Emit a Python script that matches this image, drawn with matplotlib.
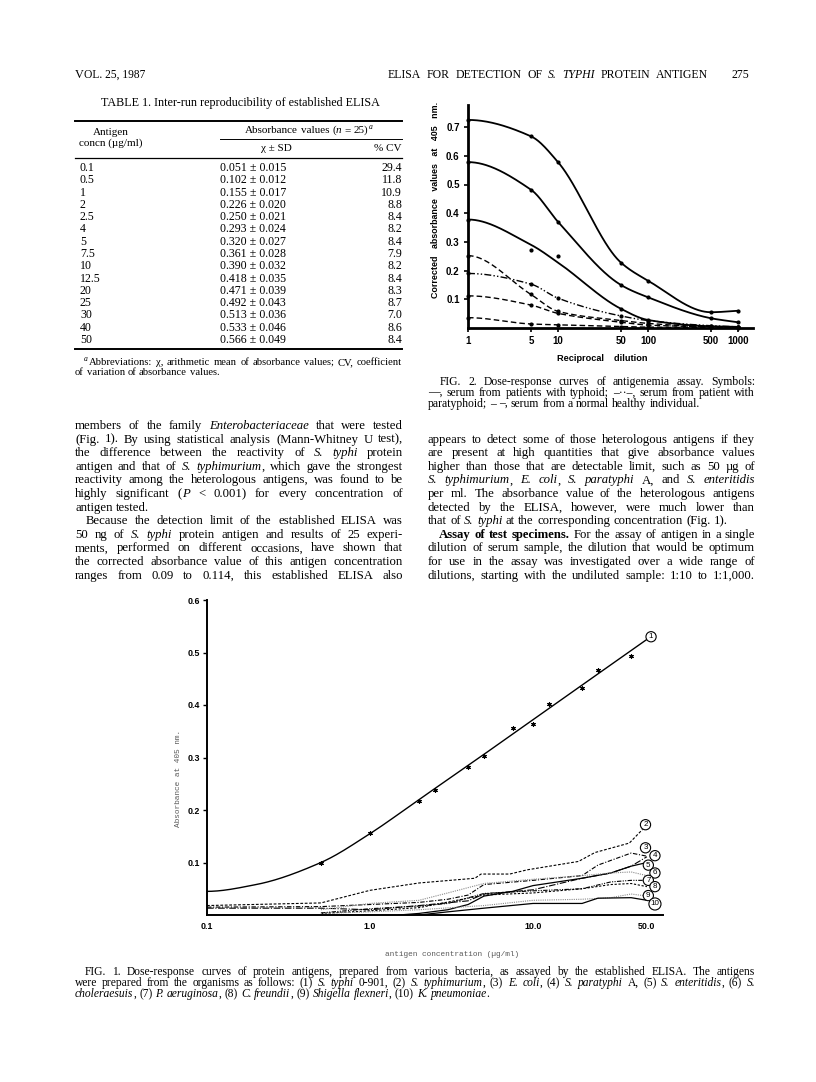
"""Journal page: Table 1, Fig. 2 and Fig. 1 (ELISA for S. typhi protein antigen)"""

import re
import numpy as np
import matplotlib
matplotlib.use("Agg")
import matplotlib.pyplot as plt
from matplotlib.lines import Line2D
from matplotlib.ticker import NullLocator

# ---------------- data ----------------
# Table 1
conc = ["0.1", "0.5", "1", "2", "2.5", "4", "5", "7.5", "10", "12.5", "20", "25", "30", "40", "50"]
mean_abs = [0.051, 0.102, 0.155, 0.226, 0.250, 0.293, 0.320, 0.361, 0.390, 0.418, 0.471, 0.492, 0.513, 0.533, 0.566]
sd_abs = [0.015, 0.012, 0.017, 0.020, 0.021, 0.024, 0.027, 0.028, 0.032, 0.035, 0.039, 0.043, 0.036, 0.046, 0.049]
cv_pct = [29.4, 11.8, 10.9, 8.8, 8.4, 8.2, 8.4, 7.9, 8.2, 8.4, 8.3, 8.7, 7.0, 8.6, 8.4]

# Fig. 2 (reciprocal dilution vs corrected absorbance)
dilution = [1, 5, 10, 50, 100, 500, 1000]
typhoid_a = [0.725, 0.668, 0.578, 0.228, 0.165, 0.055, 0.060]
typhoid_b = [0.578, 0.482, 0.370, 0.150, 0.107, 0.034, 0.020]
typhoid_c_curve = [0.378, 0.290, 0.228, 0.067, 0.028, 0.006, 0.004]
typhoid_c_pts = [0.378, 0.272, 0.250, 0.067, 0.028, 0.006, 0.004]
paratyphoid = [0.190, 0.153, 0.104, 0.042, 0.026, 0.008, 0.004]
normal_d = [0.252, 0.117, 0.058, 0.026, 0.016, 0.004, 0.002]
normal_f = [0.112, 0.080, 0.051, 0.020, 0.010, 0.004, 0.002]
normal_g = [0.036, 0.014, 0.011, 0.005, 0.003, 0.002, 0.001]

# Fig. 1 (antigen concentration vs absorbance)
typhi_pts_x = [0.5, 1.0, 2.0, 2.5, 4.0, 5.0, 7.5, 10.0, 12.5, 20.0, 25.0, 40.0]
typhi_pts_y = [0.100, 0.157, 0.218, 0.238, 0.281, 0.302, 0.356, 0.363, 0.402, 0.433, 0.467, 0.494]
typhi_fit_x = [0.1, 0.2, 0.5, 1.0, 2.0, 5.0, 10.0, 20.0, 50.0]
typhi_fit_y = [0.045, 0.058, 0.100, 0.155, 0.220, 0.306, 0.372, 0.438, 0.525]

c2_x = [0.1, 0.5, 1, 2, 4.4, 4.8, 7.2, 9.2, 19, 24, 39, 47]
c2_y = [0.018, 0.023, 0.047, 0.061, 0.070, 0.078, 0.078, 0.086, 0.102, 0.119, 0.137, 0.163]
c3_x = [0.1, 0.5, 1, 2, 3, 4, 5, 10, 20, 25, 40, 50]
c3_y = [0.015, 0.016, 0.020, 0.024, 0.030, 0.038, 0.058, 0.066, 0.075, 0.095, 0.118, 0.112]
c4_x = [0.1, 0.5, 1, 2, 4, 5, 10, 20, 30, 40, 50]
c4_y = [0.013, 0.013, 0.010, 0.018, 0.027, 0.040, 0.048, 0.070, 0.080, 0.093, 0.111]
c5_x = [1.5, 2, 3, 4, 5, 7.5, 10, 20, 30, 40, 50]
c5_y = [0.0, 0.003, 0.010, 0.020, 0.036, 0.045, 0.056, 0.070, 0.080, 0.093, 0.100]
c6_x = [0.5, 1, 2, 3, 5, 10, 20, 30, 40, 50]
c6_y = [0.010, 0.022, 0.028, 0.042, 0.060, 0.068, 0.075, 0.080, 0.082, 0.075]
c7_x = [0.5, 1, 2, 3, 5, 10, 20, 30, 40, 50]
c7_y = [0.004, 0.012, 0.017, 0.022, 0.041, 0.046, 0.050, 0.063, 0.066, 0.066]
c8_x = [0.5, 1, 2, 5, 10, 20, 30, 40, 50]
c8_y = [0.003, 0.008, 0.014, 0.038, 0.042, 0.050, 0.058, 0.060, 0.054]
c9_x = [0.5, 1, 2, 5, 10, 20, 30, 40, 50]
c9_y = [0.003, 0.006, 0.010, 0.018, 0.028, 0.030, 0.033, 0.040, 0.036]
c10_x = [2, 3, 5, 10, 20, 25, 40, 50]
c10_y = [0.0, 0.006, 0.013, 0.022, 0.022, 0.032, 0.033, 0.028]
label_x = [53, 49, 49, 56, 51, 56, 51, 56, 51, 56]
label_y = [0.530, 0.172, 0.128, 0.113, 0.095, 0.080, 0.066, 0.054, 0.037, 0.021]

# ---------------- page helpers ----------------
W, H = 816, 1082
fig = plt.figure(figsize=(W / 100, H / 100), dpi=100)
renderer = fig.canvas.get_renderer()

SERIF = "Liberation Serif"
SANS = "Liberation Sans"
MONO = "Liberation Mono"


def fx(x):
    return x / W


def fy(y):
    return 1 - y / H


def word_parts(word):
    parts = []
    for seg in re.split(r"(_[^_]+_|\*[^*]+\*)", word):
        if not seg:
            continue
        if seg.startswith("_"):
            parts.append((seg[1:-1], "italic", "normal"))
        elif seg.startswith("*"):
            parts.append((seg[1:-1], "normal", "bold"))
        else:
            parts.append((seg, "normal", "normal"))
    return parts


def text_line(line, x0, x1, y, size, justify=True, indent=0):
    items = []
    for w in line.split():
        segs = []
        for s, st, wt in word_parts(w):
            t = fig.text(0, 0, s, fontsize=size, family=SERIF, style=st,
                         weight=wt, va="baseline", ha="left")
            segs.append((t, t.get_window_extent(renderer).width))
        items.append(segs)
    widths = [sum(w for _, w in segs) for segs in items]
    x = x0 + indent
    if justify and len(items) > 1:
        gap = (x1 - x - sum(widths)) / (len(items) - 1)
    else:
        gap = size * 100 / 72 * 0.26
    for segs, ww in zip(items, widths):
        cx = x
        for t, w in segs:
            t.set_position((fx(cx), fy(y)))
            cx += w
        x += ww + gap
    return x - gap


def paragraph(lines, x0, x1, y0, lead, size):
    for i, (line, just, ind) in enumerate(lines):
        text_line(line, x0, x1, y0 + i * lead, size, justify=just, indent=ind)


def hrule(x0, x1, y, lw=0.8):
    fig.add_artist(Line2D([fx(x0), fx(x1)], [fy(y), fy(y)], lw=lw,
                          color="black", transform=fig.transFigure))


def smooth(x, y, start_slope=0.0, n=300):
    # monotone cubic through the read points, in log-x space (drawing only)
    lx = np.log10(np.asarray(x, float))
    y = np.asarray(y, float)
    h = np.diff(lx)
    d = np.diff(y) / h
    m = np.empty_like(y)
    m[0] = start_slope
    m[-1] = d[-1]
    for i in range(1, len(y) - 1):
        if d[i - 1] * d[i] <= 0:
            m[i] = 0
        else:
            w1, w2 = 2 * h[i] + h[i - 1], h[i] + 2 * h[i - 1]
            m[i] = (w1 + w2) / (w1 / d[i - 1] + w2 / d[i])
    xs = np.linspace(lx[0], lx[-1], n)
    k = np.clip(np.searchsorted(lx, xs, side="right") - 1, 0, len(h) - 1)
    t = (xs - lx[k]) / h[k]
    yy = ((2 * t**3 - 3 * t**2 + 1) * y[k] + (t**3 - 2 * t**2 + t) * h[k] * m[k]
          + (-2 * t**3 + 3 * t**2) * y[k + 1] + (t**3 - t**2) * h[k] * m[k + 1])
    return 10**xs, yy


# ---------------- running head ----------------
v = fig.text(fx(75), fy(78), "V", fontsize=8.8, family=SERIF, va="baseline")
vw = v.get_window_extent(renderer).width
fig.text(fx(75 + vw + 0.5), fy(78), "OL. 25, 1987", fontsize=8.3, family=SERIF, va="baseline")
text_line("ELISA FOR DETECTION OF _S._ _TYPHI_ PROTEIN ANTIGEN", 388, 708, 78, 8.5)
fig.text(fx(749), fy(78), "275", fontsize=8.5, family=SERIF, va="baseline", ha="right")

# ---------------- Table 1 ----------------
fig.text(fx(240), fy(106), "TABLE 1. Inter-run reproducibility of established ELISA",
         fontsize=8.7, family=SERIF, ha="center", va="baseline")
hrule(75, 402, 121, lw=1.4)
fig.text(fx(111), fy(135), "Antigen", fontsize=8, family=SERIF, ha="center", va="baseline")
fig.text(fx(111), fy(146), "concn (µg/ml)", fontsize=8, family=SERIF, ha="center", va="baseline")
xe = text_line("Absorbance values (_n_ = 25)", 245, 402, 133, 8, justify=False)
fig.text(fx(xe + 1), fy(129), "a", fontsize=5.5, family=SERIF, style="italic", va="baseline")
hrule(220, 402, 139, lw=0.7)
fig.text(fx(276), fy(151), "χ ± SD", fontsize=8, family=SERIF, ha="center", va="baseline")
fig.text(fx(402), fy(151), "% CV", fontsize=8, family=SERIF, ha="right", va="baseline")
hrule(75, 402, 158, lw=0.9)

for i in range(len(conc)):
    yb = 171 + 12.29 * i
    fig.text(fx(80), fy(yb), conc[i], fontsize=8.6, family=SERIF, va="baseline")
    fig.text(fx(220), fy(yb), f"{mean_abs[i]:.3f} ± {sd_abs[i]:.3f}", fontsize=8.6,
             family=SERIF, va="baseline")
    fig.text(fx(402), fy(yb), f"{cv_pct[i]:.1f}", fontsize=8.6, family=SERIF,
             ha="right", va="baseline")
hrule(75, 402, 349, lw=1.4)

fig.text(fx(84), fy(361), "a", fontsize=5.5, family=SERIF, style="italic", va="baseline")
text_line("Abbreviations: χ, arithmetic mean of absorbance values; CV, coefficient",
          89, 402, 365, 7.7)
text_line("of variation of absorbance values.", 75, 402, 375, 7.7, justify=False)

# ---------------- body text ----------------
left_lines = [
    ("members of the family _Enterobacteriaceae_ that were tested", True, 0),
    ("(Fig. 1). By using statistical analysis (Mann-Whitney U test),", True, 0),
    ("the difference between the reactivity of _S._ _typhi_ protein", True, 0),
    ("antigen and that of _S._ _typhimurium_, which gave the strongest", True, 0),
    ("reactivity among the heterologous antigens, was found to be", True, 0),
    ("highly significant (_P_ < 0.001) for every concentration of", True, 0),
    ("antigen tested.", False, 0),
    ("Because the detection limit of the established ELISA was", True, 11),
    ("50 ng of _S._ _typhi_ protein antigen and results of 25 experi-", True, 0),
    ("ments, performed on different occasions, have shown that", True, 0),
    ("the corrected absorbance value of this antigen concentration", True, 0),
    ("ranges from 0.09 to 0.114, this established ELISA also", True, 0),
]
paragraph(left_lines, 75, 403, 429, 13.6, 9.2)

right_lines = [
    ("appears to detect some of those heterologous antigens if they", True, 0),
    ("are present at high quantities that give absorbance values", True, 0),
    ("higher than those that are detectable limit, such as 50 µg of", True, 0),
    ("_S._ _typhimurium_, _E._ _coli_, _S._ _paratyphi_ A, and _S._ _enteritidis_", True, 0),
    ("per ml. The absorbance value of the heterologous antigens", True, 0),
    ("detected by the ELISA, however, were much lower than", True, 0),
    ("that of _S._ _typhi_ at the corresponding concentration (Fig. 1).", False, 0),
    ("*Assay* *of* *test* *specimens.* For the assay of antigen in a single", True, 11),
    ("dilution of serum sample, the dilution that would be optimum", True, 0),
    ("for use in the assay was investigated over a wide range of", True, 0),
    ("dilutions, starting with the undiluted sample: 1:10 to 1:1,000.", True, 0),
]
paragraph(right_lines, 428, 755, 442.6, 13.6, 9.2)

fig2_caption = [
    ("FIG. 2. Dose-response curves of antigenemia assay. Symbols:", True, 12),
    ("—, serum from patients with typhoid; –··–, serum from patient with", True, 0),
    ("paratyphoid; – –, serum from a normal healthy individual.", False, 0),
]
paragraph(fig2_caption, 428, 755, 385, 11, 8.4)

fig1_caption = [
    ("FIG. 1. Dose-response curves of protein antigens, prepared from various bacteria, "
     "as assayed by the established ELISA. The antigens", True, 10),
    ("were prepared from the organisms as follows: (1) _S._ _typhi_ 0-901, (2) _S._ _typhimurium_, "
     "(3) _E._ _coli_, (4) _S._ _paratyphi_ A, (5) _S._ _enteritidis_, (6) _S._", True, 0),
    ("_choleraesuis_, (7) _P._ _aeruginosa_, (8) _C._ _freundii_, (9) _Shigella_ _flexneri_, "
     "(10) _K._ _pneumoniae_.", False, 0),
]
paragraph(fig1_caption, 75, 755, 975, 11, 8.3)

# ---------------- Fig. 2 ----------------
ax2 = fig.add_axes([fx(468), fy(328), (753 - 468) / W, (328 - 105) / H])
ax2.set_xscale("log")
ax2.set_xlim(1, 10 ** ((753 - 468) / 90))
ax2.set_ylim(0, (328 - 105) / 287)

solid = dict(color="black", lw=1.3)
dash = dict(color="black", lw=1.0, dashes=(4, 2.2))
dashdot = dict(color="black", lw=1.0, dashes=(5, 1.6, 1, 1.6, 1, 1.6))
for ys, style in [(typhoid_a, solid), (typhoid_b, solid), (typhoid_c_curve, solid),
                  (paratyphoid, dashdot), (normal_d, dash), (normal_f, dash), (normal_g, dash)]:
    sx, sy = smooth(dilution, ys)
    ax2.plot(sx, sy, **style)
for ys in [typhoid_a, typhoid_b, typhoid_c_pts, paratyphoid, normal_d, normal_f, normal_g]:
    ax2.plot(dilution, ys, "o", color="black", ms=2.0, clip_on=False)

for side in ["top", "right"]:
    ax2.spines[side].set_visible(False)
for side in ["left", "bottom"]:
    ax2.spines[side].set_linewidth(2.0)
ax2.set_xticks(dilution)
ax2.xaxis.set_minor_locator(NullLocator())
ax2.set_xticklabels([str(d) for d in dilution], fontsize=7, family=SANS, weight="bold")
ax2.set_yticks([0.1, 0.2, 0.3, 0.4, 0.5, 0.6, 0.7])
ax2.set_yticklabels(["0.1", "0.2", "0.3", "0.4", "0.5", "0.6", "0.7"],
                    fontsize=7, family=SANS, weight="bold")
ax2.tick_params(direction="out", length=3, width=1.2, pad=3)
fig.text(fx(436), fy(200), "Corrected   absorbance   values   at   405   nm.",
         rotation=90, ha="center", va="center", fontsize=6.4, family=SANS, weight="bold")
fig.text(fx(602), fy(361), "Reciprocal    dilution", ha="center", va="baseline",
         fontsize=6.6, family=SANS, weight="bold")

# ---------------- Fig. 1 ----------------
ax1 = fig.add_axes([fx(207), fy(915), (663 - 207) / W, (915 - 600) / H])
ax1.set_xscale("log")
ax1.set_xlim(0.1, 10 ** (-1 + (663 - 207) / 163))
ax1.set_ylim(0, 0.6)

sx, sy = smooth(typhi_fit_x, typhi_fit_y)
ax1.plot(sx, sy, color="black", lw=1.0)
ax1.plot(typhi_pts_x, typhi_pts_y, linestyle="none", marker=(6, 2, 0), color="black",
         ms=3.2, mew=0.8)

grey = "0.55"
curves = [
    (c2_x, c2_y, dict(color="black", lw=0.8, dashes=(2.5, 1.5))),
    (c3_x, c3_y, dict(color="black", lw=0.8, dashes=(4, 1.5, 1, 1.5))),
    (c4_x, c4_y, dict(color="black", lw=0.8, dashes=(6, 1.5, 1, 1.5))),
    (c5_x, c5_y, dict(color="black", lw=0.9)),
    (c6_x, c6_y, dict(color=grey, lw=0.8, dashes=(1, 1))),
    (c7_x, c7_y, dict(color="black", lw=0.8, dashes=(4, 1.2, 1, 1.2, 1, 1.2))),
    (c8_x, c8_y, dict(color="black", lw=0.8, dashes=(2, 1.5))),
    (c9_x, c9_y, dict(color=grey, lw=0.8, dashes=(1, 1))),
    (c10_x, c10_y, dict(color="black", lw=0.9)),
]
for cx, cy, style in curves:
    ax1.plot(cx, cy, **style)

for i in range(10):
    ax1.text(label_x[i], label_y[i], str(i + 1), fontsize=5.8, family=SANS,
             ha="center", va="center", clip_on=False,
             bbox=dict(boxstyle="circle,pad=0.2", fc="white", ec="black", lw=0.8))

for side in ["top", "right"]:
    ax1.spines[side].set_visible(False)
for side in ["left", "bottom"]:
    ax1.spines[side].set_linewidth(1.4)
ax1.set_xticks([0.1, 1, 10, 50])
ax1.xaxis.set_minor_locator(NullLocator())
ax1.set_xticklabels(["0.1", "1.0", "10.0", "50.0"], fontsize=6.4, family=SANS, weight="bold")
ax1.set_yticks([0.1, 0.2, 0.3, 0.4, 0.5, 0.6])
ax1.set_yticklabels(["0.1", "0.2", "0.3", "0.4", "0.5", "0.6"], fontsize=6.4,
                    family=SANS, weight="bold")
ax1.tick_params(axis="x", length=0, pad=5)
ax1.tick_params(axis="y", direction="out", length=3, width=1.0, pad=2)
fig.text(fx(178), fy(778), "Absorbance at 405 nm.", rotation=90, ha="center", va="center",
         fontsize=5.6, family=MONO, color="0.35")
fig.text(fx(452), fy(956), "antigen concentration (µg/ml)", ha="center", va="baseline",
         fontsize=5.6, family=MONO, color="0.35")

fig.savefig("out.png", dpi=100)
plt.close(fig)
